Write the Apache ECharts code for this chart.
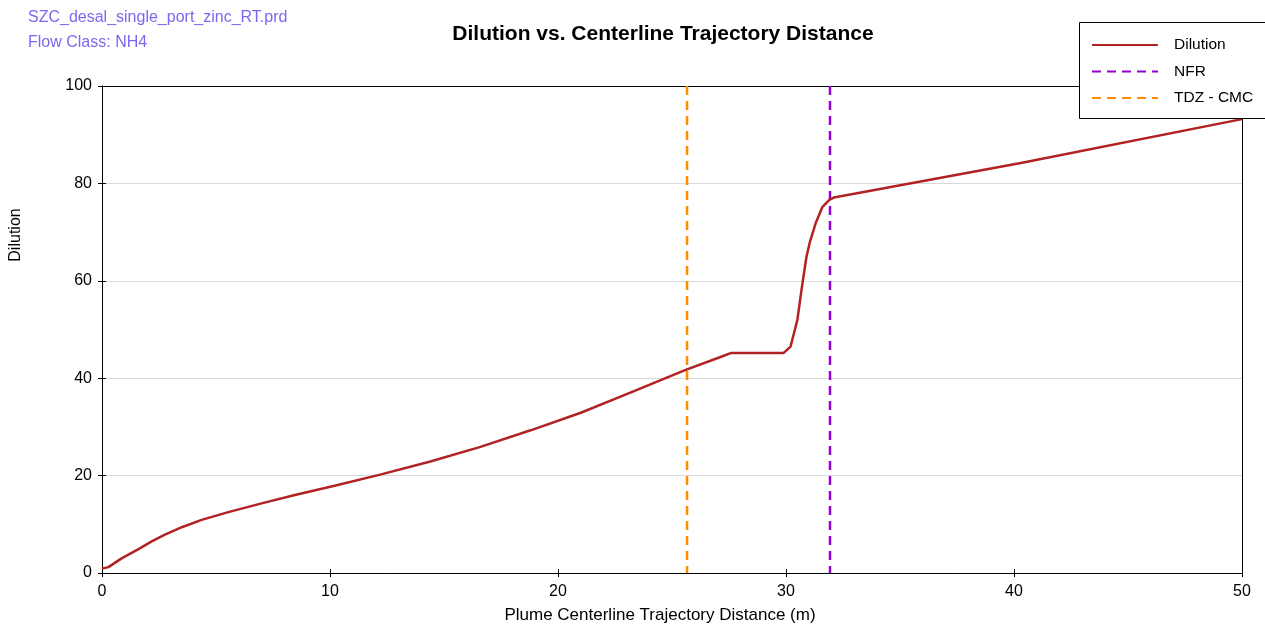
<!DOCTYPE html>
<html>
<head>
<meta charset="utf-8">
<title>Dilution vs. Centerline Trajectory Distance</title>
<script src="https://cdn.jsdelivr.net/npm/echarts@6/dist/echarts.min.js"></script>
<style>
  html, body { margin: 0; padding: 0; background: #fff; }
  #chart { width: 1265px; height: 625px; }
</style>
</head>
<body>
<div id="chart"></div>
<script>
// Plume centerline distance (m) and dilution along the trajectory
const distance = [0, 0.28, 0.86, 1.6, 2.18, 2.76, 3.5, 4.37, 5.54, 7.0, 8.46, 10.2, 12.2, 14.4, 16.6, 18.8, 21.0, 23.2, 25.6, 27.1, 27.6, 29.9, 30.2, 30.5, 30.7, 30.9, 31.05, 31.3, 31.6, 31.9, 32.1, 40.3, 50];
const dilution = [0.9, 1.2, 3.0, 4.9, 6.5, 7.9, 9.4, 10.9, 12.5, 14.3, 16.0, 17.9, 20.2, 22.9, 25.9, 29.3, 32.9, 37.1, 41.7, 44.3, 45.2, 45.2, 46.5, 52, 58.8, 65, 68, 71.8, 75.2, 76.6, 77.1, 84.2, 93.2];

// Boundary distances (m)
const nfrDistance = 31.93;
const tdzDistance = 25.66;

// Axis ranges
const xTicks = [0, 10, 20, 30, 40, 50];
const yTicks = [0, 20, 40, 60, 80, 100];

const seriesNames = ['Dilution', 'NFR', 'TDZ - CMC'];
const headerLines = ['SZC_desal_single_port_zinc_RT.prd', 'Flow Class: NH4'];
const chartTitle = 'Dilution vs. Centerline Trajectory Distance';
const xAxisTitle = 'Plume Centerline Trajectory Distance (m)';
const yAxisTitle = 'Dilution';

const FONT = '"Liberation Sans", Arial, sans-serif';
const xMin = xTicks[0], xMax = xTicks[xTicks.length - 1];
const yMin = yTicks[0], yMax = yTicks[yTicks.length - 1];
const xStep = xTicks[1] - xTicks[0];
const yStep = yTicks[1] - yTicks[0];

const chart = echarts.init(document.getElementById('chart'), null, { renderer: 'canvas' });

const tickStyle = { color: '#000', width: 1 };
const frameLine = { show: true, onZero: false, lineStyle: { color: '#000', width: 1 } };

// Helper for the extra axes that only add inner ticks or the frame edges
function bareAxis(kind, position, withInnerTicks, withLine) {
  const isX = kind === 'x';
  return {
    type: 'value',
    min: isX ? xMin : yMin, max: isX ? xMax : yMax, interval: isX ? xStep : yStep,
    position: position, offset: 0,
    axisLine: withLine ? frameLine : { show: false, onZero: false },
    axisTick: { show: withInnerTicks, inside: true, length: 4, lineStyle: tickStyle },
    axisLabel: { show: false },
    splitLine: { show: false }
  };
}

chart.setOption({
  animation: false,
  backgroundColor: '#fff',
  textStyle: { fontFamily: FONT },
  grid: { left: 102, right: 23, top: 86, bottom: 52, show: false },
  xAxis: [
    {
      type: 'value', min: xMin, max: xMax, interval: xStep, position: 'bottom',
      axisLine: frameLine,
      axisTick: { show: true, inside: false, length: 4, lineStyle: tickStyle },
      axisLabel: { color: '#000', fontSize: 16, fontFamily: FONT, margin: 11 },
      splitLine: { show: false }
    },
    bareAxis('x', 'bottom', true, false),
    bareAxis('x', 'top', false, true)
  ],
  yAxis: [
    {
      type: 'value', min: yMin, max: yMax, interval: yStep, position: 'left',
      axisLine: frameLine,
      axisTick: { show: true, inside: false, length: 4, lineStyle: tickStyle },
      axisLabel: { color: '#000', fontSize: 16, fontFamily: FONT, margin: 10 },
      splitLine: { show: true, lineStyle: { color: '#d9d9d9', width: 1 } }
    },
    bareAxis('y', 'left', true, false),
    bareAxis('y', 'right', false, true)
  ],
  legend: {
    orient: 'vertical',
    left: 1091, top: 37,
    padding: 0,
    itemWidth: 66, itemHeight: 14, itemGap: 10.5,
    z: 11,
    data: seriesNames,
    itemStyle: { opacity: 0 },
    textStyle: { color: '#000', fontSize: 15.5, fontFamily: FONT, padding: [0, 0, 0, 11] }
  },
  graphic: [
    {
      type: 'rect', z: 10,
      shape: { x: 1079.5, y: 22.5, width: 200, height: 96 },
      style: { fill: '#fff', stroke: '#000', lineWidth: 1 }
    },
    {
      type: 'text', left: 28, top: 10,
      style: { text: headerLines[0], fill: '#7b68ee', font: '16px ' + FONT }
    },
    {
      type: 'text', left: 28, top: 35,
      style: { text: headerLines[1], fill: '#7b68ee', font: '16px ' + FONT }
    },
    {
      type: 'text', x: 663, y: 34,
      style: { text: chartTitle, fill: '#000', font: 'bold 21px ' + FONT, align: 'center', verticalAlign: 'middle' }
    },
    {
      type: 'text', x: 660, y: 615,
      style: { text: xAxisTitle, fill: '#000', font: '17px ' + FONT, align: 'center', verticalAlign: 'middle' }
    },
    {
      type: 'text', x: 16, y: 235, rotation: Math.PI / 2,
      style: { text: yAxisTitle, fill: '#000', font: '16px ' + FONT, align: 'center', verticalAlign: 'middle' }
    }
  ],
  series: [
    {
      name: seriesNames[0], type: 'line',
      symbol: 'none', smooth: false, z: 3,
      color: '#b22222',
      lineStyle: { color: '#b22222', width: 2.5 },
      data: distance.map((d, i) => [d, dilution[i]])
    },
    {
      name: seriesNames[1], type: 'line',
      symbol: 'none', z: 2,
      color: '#9400d3',
      lineStyle: { color: '#9400d3', width: 2.5, type: [9, 6] },
      data: [[nfrDistance, yMax], [nfrDistance, yMin]]
    },
    {
      name: seriesNames[2], type: 'line',
      symbol: 'none', z: 2,
      color: '#ff8c00',
      lineStyle: { color: '#ff8c00', width: 2.5, type: [9, 6] },
      data: [[tdzDistance, yMax], [tdzDistance, yMin]]
    }
  ]
});
</script>
</body>
</html>
